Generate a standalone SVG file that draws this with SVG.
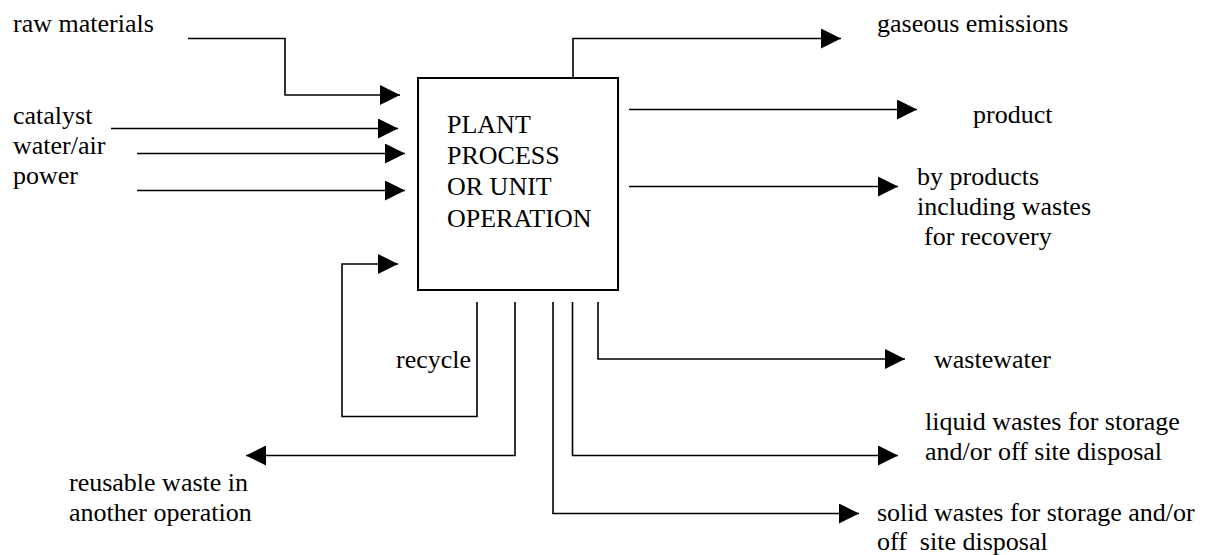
<svg xmlns="http://www.w3.org/2000/svg" width="1205" height="555" viewBox="0 0 1205 555">
<style>
text{font-family:"Liberation Serif","Times New Roman",serif;font-size:26px;fill:#000}
.c{fill:none;stroke:#000;stroke-width:1.6}
.box{fill:#fff;stroke:#000;stroke-width:2}
</style>
<defs>
<marker id="ah" markerUnits="userSpaceOnUse" markerWidth="20" markerHeight="20" refX="20" refY="10" orient="auto" viewBox="0 0 20 20">
<path d="M0,0 L20,10 L0,20 z" fill="#000"/>
</marker>
</defs>
<rect width="1205" height="555" fill="#fff"/>
<g id="process">
<rect class="box" x="418" y="78" width="200" height="212"/>
<text x="447" y="133">PLANT</text>
<text x="447" y="164">PROCESS</text>
<text x="447" y="195">OR UNIT</text>
<text x="447" y="227">OPERATION</text>
</g>
<g id="labels">
<text x="13" y="32">raw materials</text>
<text x="13" y="124">catalyst</text>
<text x="13" y="154">water/air</text>
<text x="13" y="184">power</text>
<text x="396" y="368">recycle</text>
<text x="69" y="491">reusable waste in</text>
<text x="69" y="521">another operation</text>
<text x="877" y="32">gaseous emissions</text>
<text x="973" y="123">product</text>
<text x="917" y="185">by products</text>
<text x="917" y="215">including wastes</text>
<text x="924" y="245">for recovery</text>
<text x="934" y="368">wastewater</text>
<text x="925" y="430">liquid wastes for storage</text>
<text x="925" y="460">and/or off site disposal</text>
<text x="877" y="521">solid wastes for storage and/or</text>
<text x="877" y="550" xml:space="preserve">off  site disposal</text>
</g>
<g id="connectors">
<path class="c" d="M188,38.5 H285 V95 H400" marker-end="url(#ah)"/>
<path class="c" d="M111,128.5 H398" marker-end="url(#ah)"/>
<path class="c" d="M137,153.5 H405" marker-end="url(#ah)"/>
<path class="c" d="M137,190.5 H405" marker-end="url(#ah)"/>
<path class="c" d="M477,302 V416.5 H342 V264 H398" marker-end="url(#ah)"/>
<path class="c" d="M515,302 V455.5 H246" marker-end="url(#ah)"/>
<path class="c" d="M553,302 V513.5 H859" marker-end="url(#ah)"/>
<path class="c" d="M572.5,302 V455.5 H898" marker-end="url(#ah)"/>
<path class="c" d="M598,302 V359 H905" marker-end="url(#ah)"/>
<path class="c" d="M573,78 V38.5 H841" marker-end="url(#ah)"/>
<path class="c" d="M629,109.5 H917" marker-end="url(#ah)"/>
<path class="c" d="M629,186.5 H898" marker-end="url(#ah)"/>
</g>
</svg>
